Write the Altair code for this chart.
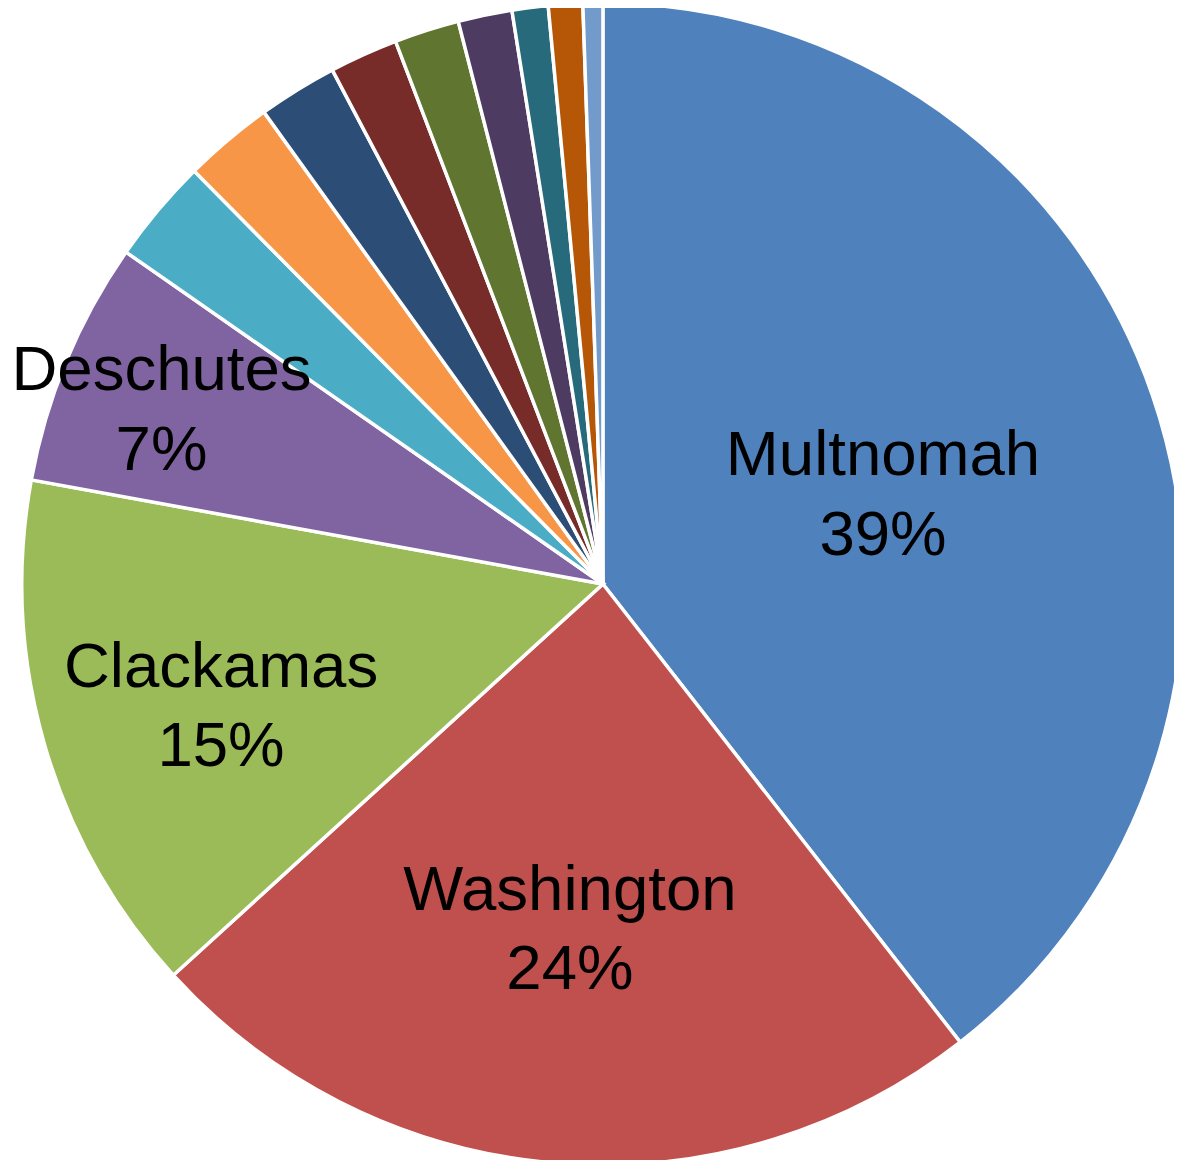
import altair as alt
import pandas as pd

counties = ["Multnomah", "Washington", "Clackamas", "Deschutes", "Lane", "Marion",
            "Jackson", "Benton", "Linn", "Yamhill", "Josephine", "Hood River", "Other"]
shares = [39.4, 23.75, 14.6, 6.8, 2.9, 2.5, 2.2, 1.9, 1.8, 1.5, 1.0, 0.95, 0.55]
colors = ["#4F81BD", "#C0504D", "#9BBB59", "#8064A2", "#4BACC6", "#F79646",
          "#2C4D75", "#772C2A", "#5F7530", "#4D3B62", "#276A7C", "#B65708", "#729ACA"]

df = pd.DataFrame({"county": counties, "share": shares, "rank": list(range(len(counties)))})

base = alt.Chart(df).encode(
    theta=alt.Theta("share:Q", stack=True),
    order=alt.Order("rank:Q"),
)

arc = base.mark_arc(stroke="white", strokeWidth=3.5, outerRadius=585).encode(
    color=alt.Color("county:N", scale=alt.Scale(domain=counties, range=colors), legend=None),
)

# label placement (style): radius, dx, dy
label_pos = {
    "Multnomah": (294, 4, -33),
    "Washington": (344, -4, -34),
    "Clackamas": (400, 0, -26),
    "Deschutes": (477, -4, -31),
}

layers = [arc]
for name, (r, dx, dy) in label_pos.items():
    t = base.transform_joinaggregate(total="sum(share)").transform_calculate(
        lbl=f"datum.county == '{name}' ? datum.county + '\\n' + format(datum.share / datum.total, '.0%') : ''"
    ).mark_text(
        radius=r, dx=dx, dy=dy, fontSize=64, font="Liberation Sans", lineBreak="\n",
        lineHeight=80, align="center", baseline="middle", color="black"
    ).encode(text="lbl:N")
    layers.append(t)

chart = alt.layer(*layers).properties(
    width=1150, height=1152,
    padding={"left": 24, "top": 0, "right": 0, "bottom": 0},
    autosize="none",
).configure_view(stroke=None)

chart.save("out.html", embed_options={"renderer": "svg", "actions": False})
